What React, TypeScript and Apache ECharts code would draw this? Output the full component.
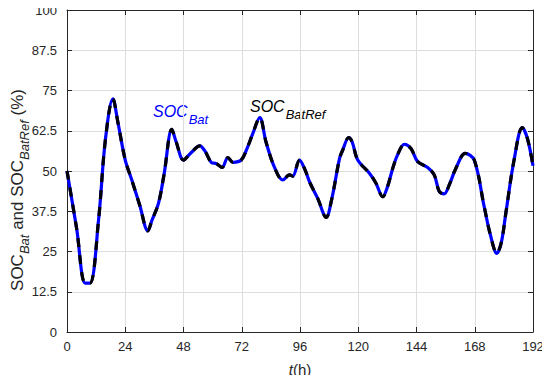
import React, { useEffect, useRef } from "react";
import * as echarts from "echarts";

// time (h)
const timeH = [
  0, 4, 7.5, 9.5, 13, 15.8, 18.9, 21, 24, 26.7, 30, 33.3, 35, 37.7, 40, 43.2, 45, 48,
  51, 54.7, 57, 59.5, 61.5, 63.9, 66.3, 68.4, 71.8, 73.9, 76.5, 79.4, 82, 85.5, 88.9,
  91.7, 93, 95.8, 98, 100, 103.3, 106.8, 109, 112.3, 113.6, 116.1, 117.5, 119.8, 124.6,
  127.3, 130.1, 132, 134.2, 136.2, 139, 141.7, 144.5, 148.6, 151.3, 153.4, 155.4, 157.5,
  160.2, 164.1, 167.8, 171.9, 174.5, 177.1, 179, 180.8, 184.2, 187.6, 189.7, 192,
];

// SOC_Bat (%)
const socBat = [
  50, 32, 15.2, 15.2, 34.8, 59.6, 72.4, 65, 53.4, 47.2, 39.3, 31.4, 34.7, 40, 49, 62.9, 59, 53.4,
  55.6, 57.8, 56, 52.6, 52.3, 51.1, 54.2, 52.7, 53.4, 56.5, 61.5, 66.6, 59, 51.1, 47.2,
  48.8, 48.4, 53.4, 50.5, 46.5, 41.5, 35.6, 41, 53.9, 56.5, 60.4, 59, 53.4, 49.3,
  46.2, 42, 45, 50.8, 55, 58.3, 57, 52.9, 51.1, 48.8, 43.6, 42.9, 45.7,
  50.8, 55.5, 53.4, 38.9, 30, 24.4, 28, 36.9, 53.4, 63.5, 60.1, 51.6,
];

// SOC_BatRef (%)
const socBatRef = [
  50, 32, 15.2, 15.2, 34.8, 59.6, 72.4, 65, 53.4, 47.2, 39.3, 31.4, 34.7, 40, 49, 62.9, 59, 53.4,
  55.6, 57.8, 56, 52.6, 52.3, 51.1, 54.2, 52.7, 53.4, 56.5, 61.5, 66.6, 59, 51.1, 47.2,
  48.8, 48.4, 53.4, 50.5, 46.5, 41.5, 35.6, 41, 53.9, 56.5, 60.4, 59, 53.4, 49.3,
  46.2, 42, 45, 50.8, 55, 58.3, 57, 52.9, 51.1, 48.8, 43.6, 42.9, 45.7,
  50.8, 55.5, 53.4, 38.9, 30, 24.4, 28, 36.9, 53.4, 63.5, 60.1, 51.6,
];

const xTicks = [0, 24, 48, 72, 96, 120, 144, 168, 192];
const yTicks = [0, 12.5, 25, 37.5, 50, 62.5, 75, 87.5, 100];

const FONT = "Arial, 'Liberation Sans', sans-serif";
const AX = "#262626";

export default function App() {
  const ref = useRef<HTMLDivElement>(null);
  useEffect(() => {
    if (!ref.current) return;
    const chart = echarts.init(ref.current, undefined, { renderer: "svg" });
    const bat = timeH.map((t, i) => [t, socBat[i]]);
    const batRef = timeH.map((t, i) => [t, socBatRef[i]]);
    const axCommon = {
      type: "value" as const,
      axisLine: { show: true, onZero: false, lineStyle: { color: AX, width: 1 } },
      axisTick: { show: true, inside: true, length: 5, lineStyle: { color: AX } },
    };
    chart.setOption({
      animation: false,
      backgroundColor: "#ffffff",
      grid: { left: 67, right: 17, top: 10, bottom: 51, containLabel: false },
      xAxis: [
        {
          ...axCommon,
          min: 0,
          max: 192,
          interval: 24,
          position: "bottom",
          axisLabel: {
            color: AX,
            fontSize: 13,
            fontFamily: FONT,
            margin: 8,
            formatter: (v: number) => (xTicks.includes(v) ? String(v) : ""),
          },
          splitLine: { show: true, lineStyle: { color: "#dedede", width: 1 } },
        },
        {
          ...axCommon,
          min: 0,
          max: 192,
          interval: 24,
          position: "top",
          axisLabel: { show: false },
          splitLine: { show: false },
        },
      ],
      yAxis: [
        {
          ...axCommon,
          min: 0,
          max: 100,
          interval: 12.5,
          position: "left",
          axisLabel: {
            color: AX,
            fontSize: 13,
            fontFamily: FONT,
            margin: 10,
            formatter: (v: number) => (yTicks.includes(v) ? String(v) : ""),
          },
          splitLine: { show: true, lineStyle: { color: "#dedede", width: 1 } },
        },
        {
          ...axCommon,
          min: 0,
          max: 100,
          interval: 12.5,
          position: "right",
          axisLabel: { show: false },
          splitLine: { show: false },
        },
      ],
      series: [
        {
          name: "SOC_Bat",
          type: "line",
          data: bat,
          smooth: 0.35,
          symbol: "none",
          lineStyle: { color: "#0000ff", width: 3.2 },
          z: 3,
        },
        {
          name: "SOC_BatRef",
          type: "line",
          data: batRef,
          smooth: 0.35,
          symbol: "none",
          lineStyle: { color: "#000000", width: 3.2, type: [9, 8] },
          z: 4,
        },
      ],
      graphic: [
        {
          type: "text",
          left: 153,
          top: 96,
          style: {
            text: "{m|SOC}{s|Bat}",
            fill: "#0000ff",
            rich: {
              m: { fontSize: 16, fontStyle: "italic", fontFamily: FONT, fill: "#0000ff", lineHeight: 18 },
              s: { fontSize: 13, fontStyle: "italic", fontFamily: FONT, fill: "#0000ff", lineHeight: 13, padding: [17, 0, 0, 1] },
            },
          },
        },
        {
          type: "text",
          left: 250,
          top: 91,
          style: {
            text: "{m|SOC}{s|BatRef}",
            fill: "#000000",
            rich: {
              m: { fontSize: 16, fontStyle: "italic", fontFamily: FONT, fill: "#000000", lineHeight: 18 },
              s: { fontSize: 13, fontStyle: "italic", fontFamily: FONT, fill: "#000000", lineHeight: 13, padding: [17, 0, 0, 1] },
            },
          },
        },
        {
          type: "text",
          x: 300,
          y: 369,
          style: {
            text: "{i|t}{n|(h)}",
            align: "center",
            verticalAlign: "middle",
            rich: {
              i: { fontSize: 15, fontStyle: "italic", fontFamily: FONT, fill: AX },
              n: { fontSize: 15, fontFamily: FONT, fill: AX },
            },
          },
        },
        {
          type: "text",
          x: 17,
          y: 190,
          rotation: Math.PI / 2,
          style: {
            text: "{m|SOC}{s|Bat}{m| and SOC}{s|BatRef}{m| (%)}",
            align: "center",
            verticalAlign: "middle",
            rich: {
              m: { fontSize: 17, fontFamily: FONT, fill: AX, lineHeight: 18 },
              s: { fontSize: 13, fontStyle: "italic", fontFamily: FONT, fill: AX, lineHeight: 13, padding: [14, 0, 0, 0] },
            },
          },
        },
      ],
    });
    return () => chart.dispose();
  }, []);
  return <div ref={ref} style={{ width: 550, height: 383, margin: -8 }} />;
}
